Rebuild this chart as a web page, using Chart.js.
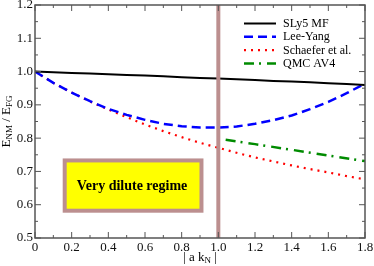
<!DOCTYPE html>
<html>
<head>
<meta charset="utf-8">
<title>E_NM / E_FG vs |a kN|</title>
<script src="https://cdn.jsdelivr.net/npm/chart.js@4.4.1/dist/chart.umd.min.js"></script>
<style>
  html, body { margin: 0; padding: 0; background: #fff; }
  #wrap { width: 374px; height: 266px; }
</style>
</head>
<body>
<div id="wrap"><canvas id="energy-chart" width="374" height="266"></canvas></div>
<script>

// values
const kValues = [0, 0.1, 0.2, 0.3, 0.4, 0.5, 0.6, 0.7, 0.8, 0.9, 1.0, 1.1, 1.2, 1.3, 1.4, 1.5, 1.6, 1.7, 1.8];
const sly5Values = [1.000, 0.998, 0.996, 0.994, 0.992, 0.990, 0.988, 0.986, 0.983, 0.981, 0.979, 0.977, 0.975, 0.972, 0.970, 0.968, 0.965, 0.963, 0.960];
const leeYangValues = [1.000, 0.966, 0.937, 0.911, 0.888, 0.870, 0.855, 0.843, 0.836, 0.832, 0.832, 0.835, 0.843, 0.854, 0.868, 0.887, 0.909, 0.935, 0.964];
const schaeferValues = [1.000, 0.966, 0.937, 0.910, 0.886, 0.863, 0.841, 0.821, 0.803, 0.786, 0.771, 0.756, 0.742, 0.730, 0.718, 0.707, 0.697, 0.686, 0.676];
const qmcK = [1.04, 1.2, 1.4, 1.6, 1.8];
const qmcValues = [0.795, 0.782, 0.765, 0.748, 0.731];

const xTickValues = [0, 0.2, 0.4, 0.6, 0.8, 1.0, 1.2, 1.4, 1.6, 1.8];
const yTickValues = [0.5, 0.6, 0.7, 0.8, 0.9, 1.0, 1.1, 1.2];

const FONT = "'Liberation Serif', 'DejaVu Serif', serif";
const MARK = '#bc8f8f';

function toPoints(xs, ys) {
    return xs.map((k, i) => ({ x: k, y: ys[i] }));
}

// draws text with subscripts, parts = [[text, isSub], ...], centred on 0,0
function drawSubText(ctx, parts, size) {
    const subSize = Math.round(size * 0.68);
    let total = 0;
    parts.forEach(p => {
        ctx.font = (p[1] ? subSize : size) + 'px ' + FONT;
        total += ctx.measureText(p[0]).width;
    });
    let pos = -total / 2;
    ctx.textAlign = 'left';
    ctx.textBaseline = 'alphabetic';
    parts.forEach(p => {
        ctx.font = (p[1] ? subSize : size) + 'px ' + FONT;
        ctx.fillText(p[0], pos, p[1] ? 6 : 4);
        pos += ctx.measureText(p[0]).width;
    });
}

const decorations = {
    id: 'decorations',
    afterDatasetsDraw(chart) {
        const { ctx, chartArea: a, scales: { x, y } } = chart;
        ctx.save();

        // marker at |a kN| = 1
        const xm = x.getPixelForValue(1.0);
        ctx.strokeStyle = MARK;
        ctx.lineWidth = 4;
        ctx.beginPath();
        ctx.moveTo(xm, a.top);
        ctx.lineTo(xm, a.bottom);
        ctx.stroke();

        // "Very dilute regime" box
        const bx1 = x.getPixelForValue(0.162), bx2 = x.getPixelForValue(0.908);
        const by1 = y.getPixelForValue(0.733), by2 = y.getPixelForValue(0.582);
        ctx.fillStyle = '#ffff00';
        ctx.fillRect(bx1, by1, bx2 - bx1, by2 - by1);
        ctx.strokeRect(bx1, by1, bx2 - bx1, by2 - by1);
        ctx.fillStyle = '#000';
        ctx.font = 'bold 14px ' + FONT;
        ctx.textAlign = 'center';
        ctx.textBaseline = 'middle';
        ctx.fillText('Very dilute regime', (bx1 + bx2) / 2 - 1, (by1 + by2) / 2 + 1);

        // frame with inward ticks on all sides
        ctx.strokeStyle = '#555';
        ctx.lineWidth = 1.5;
        ctx.strokeRect(a.left, a.top, a.right - a.left, a.bottom - a.top);
        ctx.lineWidth = 1;
        ctx.beginPath();
        const xt = x.ticks.map(t => t.value);
        xt.forEach((v, i) => {
            const px = x.getPixelForValue(v);
            ctx.moveTo(px, a.bottom); ctx.lineTo(px, a.bottom - 6);
            ctx.moveTo(px, a.top); ctx.lineTo(px, a.top + 6);
            if (i < xt.length - 1) {
                const pm = x.getPixelForValue((v + xt[i + 1]) / 2);
                ctx.moveTo(pm, a.bottom); ctx.lineTo(pm, a.bottom - 3);
                ctx.moveTo(pm, a.top); ctx.lineTo(pm, a.top + 3);
            }
        });
        const yt = y.ticks.map(t => t.value);
        yt.forEach((v, i) => {
            const py = y.getPixelForValue(v);
            ctx.moveTo(a.left, py); ctx.lineTo(a.left + 6, py);
            ctx.moveTo(a.right, py); ctx.lineTo(a.right - 6, py);
            if (i < yt.length - 1) {
                const pm = y.getPixelForValue((v + yt[i + 1]) / 2);
                ctx.moveTo(a.left, pm); ctx.lineTo(a.left + 3, pm);
                ctx.moveTo(a.right, pm); ctx.lineTo(a.right - 3, pm);
            }
        });
        ctx.stroke();

        // legend inside the plot
        chart.data.datasets.forEach((ds, i) => {
            const ly = a.top + 18.5 + i * 13.3;
            ctx.strokeStyle = ds.borderColor;
            ctx.lineWidth = ds.borderWidth;
            ctx.setLineDash(ds.borderDash || []);
            ctx.beginPath();
            ctx.moveTo(a.right - 121, ly);
            ctx.lineTo(a.right - 89, ly);
            ctx.stroke();
            ctx.setLineDash([]);
            ctx.fillStyle = '#000';
            ctx.font = '12px ' + FONT;
            ctx.textAlign = 'left';
            ctx.textBaseline = 'middle';
            ctx.fillText(ds.label, a.right - 82, ly + 0.5);
        });

        // axis titles
        ctx.fillStyle = '#000';
        ctx.save();
        ctx.translate((a.left + a.right) / 2, 256.5);
        drawSubText(ctx, [['| a k', false], ['N', true], [' |', false]], 13);
        ctx.restore();
        ctx.save();
        ctx.translate(6, (a.top + a.bottom) / 2);
        ctx.rotate(-Math.PI / 2);
        drawSubText(ctx, [['E', false], ['NM', true], [' / E', false], ['FG', true]], 13);
        ctx.restore();

        ctx.restore();
    }
};

document.addEventListener("DOMContentLoaded", function () {

    const canvas = document.getElementById("energy-chart");

    new Chart(canvas, {
        type: 'line',
        data: {
            datasets: [{
                label: 'SLy5 MF',
                data: toPoints(kValues, sly5Values),
                borderColor: '#000000',
                borderWidth: 2,
                borderDash: []
            }, {
                label: 'Lee-Yang',
                data: toPoints(kValues, leeYangValues),
                borderColor: '#0000ff',
                borderWidth: 2.5,
                borderDash: [9, 5]
            }, {
                label: 'Schaefer et al.',
                data: toPoints(kValues, schaeferValues),
                borderColor: '#ff0000',
                borderWidth: 2.2,
                borderDash: [2, 5]
            }, {
                label: 'QMC AV4',
                data: toPoints(qmcK, qmcValues),
                borderColor: '#008b00',
                borderWidth: 2.5,
                borderDash: [10, 5, 2, 6]
            }]
        },
        options: {
            responsive: false,
            animation: false,
            devicePixelRatio: 1,
            layout: { padding: { top: 5, right: 9, left: 0, bottom: 0 } },
            elements: {
                point: { radius: 0 },
                line: { tension: 0, fill: false }
            },
            plugins: {
                legend: { display: false },
                tooltip: { enabled: false }
            },
            scales: {
                x: {
                    type: 'linear',
                    min: 0,
                    max: 1.8,
                    afterBuildTicks: (scale) => { scale.ticks = xTickValues.map(v => ({ value: v })); },
                    afterFit: (scale) => { scale.height = 28; scale.paddingLeft = 0; scale.paddingRight = 0; },
                    grid: { display: false, drawTicks: false },
                    border: { display: false },
                    ticks: {
                        autoSkip: false,
                        maxRotation: 0,
                        padding: 2,
                        color: '#111',
                        font: { family: FONT, size: 13 },
                        callback: (v) => v === 0 ? '0' : Number(v).toFixed(1)
                    }
                },
                y: {
                    min: 0.5,
                    max: 1.2,
                    afterBuildTicks: (scale) => { scale.ticks = yTickValues.map(v => ({ value: v })); },
                    afterFit: (scale) => { scale.width = 35; scale.paddingTop = 0; scale.paddingBottom = 0; },
                    grid: { display: false, drawTicks: false },
                    border: { display: false },
                    ticks: {
                        autoSkip: false,
                        padding: 2,
                        color: '#111',
                        font: { family: FONT, size: 13 },
                        callback: (v) => Number(v).toFixed(1)
                    }
                }
            }
        },
        plugins: [decorations]
    });

});
</script>
</body>
</html>
